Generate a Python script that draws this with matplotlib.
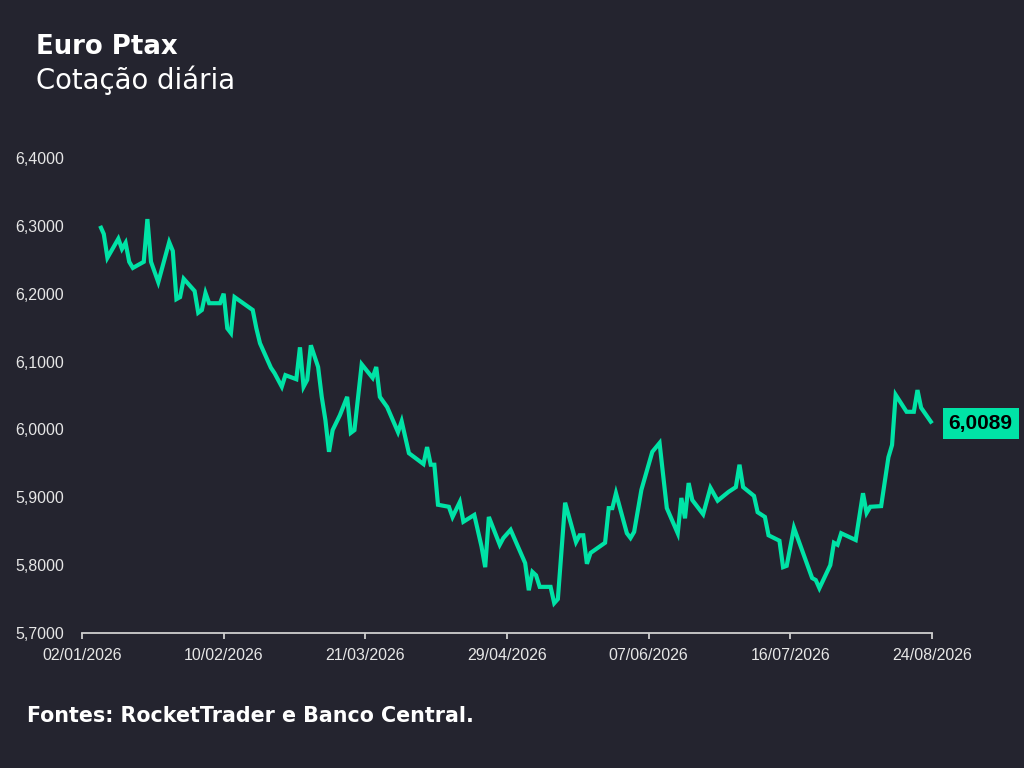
import matplotlib
matplotlib.use("Agg")
import matplotlib.pyplot as plt
import pandas as pd

# ---- data ----
dates_str = [
    # Jan
    "07/01/2026", "08/01/2026", "09/01/2026", "12/01/2026", "13/01/2026", "14/01/2026",
    "15/01/2026", "16/01/2026", "19/01/2026", "20/01/2026", "21/01/2026", "23/01/2026",
    "26/01/2026", "27/01/2026", "28/01/2026", "29/01/2026", "30/01/2026",
    # Feb
    "02/02/2026", "03/02/2026", "04/02/2026", "05/02/2026", "06/02/2026", "09/02/2026",
    "10/02/2026", "11/02/2026", "12/02/2026", "13/02/2026", "18/02/2026", "19/02/2026",
    "20/02/2026", "23/02/2026", "24/02/2026", "26/02/2026", "27/02/2026",
    # Mar
    "02/03/2026", "03/03/2026", "04/03/2026", "05/03/2026", "06/03/2026", "08/03/2026",
    "09/03/2026", "10/03/2026", "11/03/2026", "12/03/2026", "14/03/2026", "16/03/2026",
    "17/03/2026", "18/03/2026", "20/03/2026", "23/03/2026", "24/03/2026", "25/03/2026",
    "27/03/2026", "30/03/2026", "31/03/2026",
    # Apr
    "02/04/2026", "06/04/2026", "07/04/2026", "08/04/2026", "09/04/2026", "10/04/2026",
    "13/04/2026", "14/04/2026", "16/04/2026", "17/04/2026", "20/04/2026", "22/04/2026",
    "23/04/2026", "24/04/2026", "27/04/2026", "28/04/2026", "30/04/2026",
    # May
    "04/05/2026", "05/05/2026", "06/05/2026", "07/05/2026", "08/05/2026", "11/05/2026",
    "12/05/2026", "13/05/2026", "15/05/2026", "18/05/2026", "19/05/2026", "20/05/2026",
    "21/05/2026", "22/05/2026", "26/05/2026", "27/05/2026", "28/05/2026", "29/05/2026",
    # Jun
    "01/06/2026", "02/06/2026", "03/06/2026", "05/06/2026", "08/06/2026", "10/06/2026",
    "12/06/2026", "15/06/2026", "16/06/2026", "17/06/2026", "18/06/2026", "19/06/2026",
    "22/06/2026", "24/06/2026", "26/06/2026", "29/06/2026",
    # Jul
    "01/07/2026", "02/07/2026", "03/07/2026", "06/07/2026", "07/07/2026", "09/07/2026",
    "10/07/2026", "13/07/2026", "14/07/2026", "15/07/2026", "17/07/2026", "22/07/2026",
    "23/07/2026", "24/07/2026", "27/07/2026", "28/07/2026", "29/07/2026", "30/07/2026",
    # Aug
    "03/08/2026", "05/08/2026", "06/08/2026", "07/08/2026", "10/08/2026", "12/08/2026",
    "13/08/2026", "14/08/2026", "17/08/2026", "19/08/2026", "20/08/2026", "21/08/2026",
    "24/08/2026",
]

values = [
    # Jan
    6.300, 6.288, 6.253, 6.281, 6.266, 6.275,
    6.247, 6.238, 6.247, 6.310, 6.247, 6.217,
    6.276, 6.263, 6.192, 6.195, 6.222,
    # Feb
    6.204, 6.172, 6.176, 6.201, 6.186, 6.186,
    6.200, 6.149, 6.142, 6.195, 6.176, 6.149,
    6.127, 6.091, 6.083, 6.063, 6.080,
    # Mar
    6.074, 6.121, 6.063, 6.073, 6.124, 6.092,
    6.048, 6.014, 5.967, 5.999, 6.021, 6.048,
    5.995, 5.999, 6.096, 6.076, 6.092, 6.048,
    6.033, 5.996, 6.012,
    # Apr
    5.965, 5.949, 5.974, 5.948, 5.948, 5.889,
    5.886, 5.871, 5.893, 5.864, 5.874, 5.827,
    5.797, 5.871, 5.830, 5.840, 5.852,
    # May
    5.803, 5.763, 5.790, 5.785, 5.768, 5.768,
    5.744, 5.750, 5.892, 5.834, 5.844, 5.844,
    5.802, 5.818, 5.833, 5.884, 5.884, 5.906,
    # Jun
    5.847, 5.840, 5.849, 5.911, 5.967, 5.980,
    5.884, 5.847, 5.899, 5.869, 5.921, 5.896,
    5.875, 5.914, 5.895, 5.908,
    # Jul
    5.915, 5.948, 5.915, 5.902, 5.878, 5.871,
    5.844, 5.836, 5.797, 5.799, 5.855, 5.781,
    5.778, 5.766, 5.800, 5.833, 5.830, 5.847,
    # Aug
    5.837, 5.906, 5.877, 5.886, 5.887, 5.959,
    5.977, 6.051, 6.026, 6.026, 6.058, 6.032,
    6.0089,
]

xtick_labels = ["02/01/2026", "10/02/2026", "21/03/2026", "29/04/2026",
                "07/06/2026", "16/07/2026", "24/08/2026"]
ytick_values = [5.7, 5.8, 5.9, 6.0, 6.1, 6.2, 6.3, 6.4]

title = "Euro Ptax"
subtitle = "Cotação diária"
source = "Fontes: RocketTrader e Banco Central."

assert len(dates_str) == len(values)

# ---- style ----
BG = "#24242f"
LINE = "#00e3a6"
TXT = "#e6e6e6"

dates = pd.to_datetime(dates_str, format="%d/%m/%Y")
xticks = pd.to_datetime(xtick_labels, format="%d/%m/%Y")

fig = plt.figure(figsize=(10.24, 7.68), dpi=100, facecolor=BG)
ax = fig.add_axes([82/1024, 1-633/768, 850/1024, 475/768])
ax.set_facecolor(BG)

ax.plot(dates, values, color=LINE, lw=3.0, solid_joinstyle="miter",
        solid_capstyle="butt", clip_on=False)

ax.set_xlim(xticks[0], xticks[-1])
ax.set_ylim(ytick_values[0], ytick_values[-1])

for s in ["top", "right", "left"]:
    ax.spines[s].set_visible(False)
ax.spines["bottom"].set_color("#cfcfcf")
ax.spines["bottom"].set_linewidth(1.3)

ax.set_xticks(xticks)
ax.set_xticklabels(xtick_labels)
ax.set_yticks(ytick_values)
ax.set_yticklabels([f"{v:.4f}".replace(".", ",") for v in ytick_values])
ax.tick_params(axis="x", colors="#cfcfcf", length=4, width=1.3, pad=7,
               labelcolor=TXT, labelsize=11.5)
ax.tick_params(axis="y", length=0, pad=13, labelcolor=TXT, labelsize=11.5)
for lab in ax.get_xticklabels() + ax.get_yticklabels():
    lab.set_fontfamily("Liberation Sans")

# last value label
ax.annotate(f"{values[-1]:.4f}".replace(".", ","), xy=(dates[-1], values[-1]),
            xytext=(12, 0), textcoords="offset points", ha="left", va="center",
            fontsize=15, fontweight="bold", color="#000000",
            fontfamily="Liberation Sans",
            bbox=dict(boxstyle="square,pad=0.28", fc=LINE, ec="none"),
            annotation_clip=False)

fig.text(36/1024, 1-47/768, title, fontsize=18.7, fontweight="bold",
         color="white", fontfamily="DejaVu Sans", va="center", ha="left")
fig.text(36/1024, 1-80/768, subtitle, fontsize=19.8, color="white",
         fontfamily="DejaVu Sans", va="center", ha="left")
fig.text(27/1024, 1-716/768, source, fontsize=14.85, fontweight="bold",
         color="white", fontfamily="DejaVu Sans", va="center", ha="left")

fig.savefig("out.png", dpi=100, facecolor=BG)
